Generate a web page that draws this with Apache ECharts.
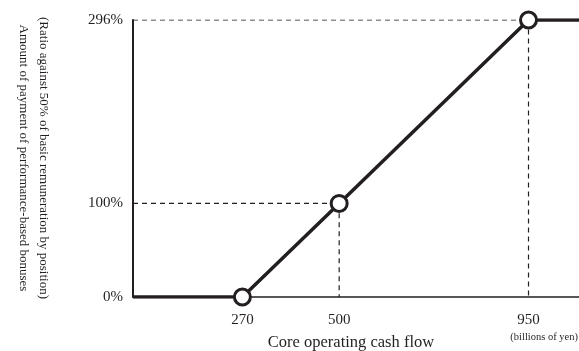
<!DOCTYPE html>
<html><head><meta charset="utf-8">
<script src="https://cdn.jsdelivr.net/npm/echarts@6/dist/echarts.min.js"></script>
<style>html,body{margin:0;padding:0;background:#fff}#c{width:579px;height:351px}</style>
</head><body><div id="c"></div>
<script>
// data
const cashFlow = [10, 270, 500, 950, 1070];      // billions of yen (first/last = axis ends)
const payoutRatio = [0, 0, 100, 296, 296];        // %
const keyPoints = [270, 500, 950];                // points drawn with markers
const xTickLabels = [270, 500, 950];
const yTickLabels = [0, 100, 296];
const xMin = 10, xMax = 1070, yMin = 0, yMax = 296;

const ink = '#231f20';
const serif = '"Liberation Serif","Times New Roman",serif';

const mainData = cashFlow.map((x, i) => keyPoints.includes(x)
  ? { value: [x, payoutRatio[i]] }
  : { value: [x, payoutRatio[i]], symbol: 'none' });

const guides = [];
keyPoints.forEach((x) => {
  const y = payoutRatio[cashFlow.indexOf(x)];
  if (y > 0) guides.push([[xMin, y], [x, y], [x, yMin]]);
});

const chart = echarts.init(document.getElementById('c'));
chart.setOption({
  animation: false,
  grid: { left: 133, right: 0, top: 20, bottom: 54, containLabel: false, outerBoundsMode: 'none' },
  xAxis: {
    type: 'value', min: xMin, max: xMax, interval: 10,
    axisLine: { show: true, lineStyle: { color: ink, width: 1.5 } },
    axisTick: { show: false }, splitLine: { show: false },
    axisLabel: {
      margin: 16, color: ink, fontFamily: serif, fontSize: 15,
      formatter: v => xTickLabels.includes(v) ? String(v) : ''
    },
    name: 'Core operating cash flow', nameLocation: 'middle', nameGap: 37,
    nameTextStyle: { color: ink, fontFamily: serif, fontSize: 16.5, verticalAlign: 'top', padding: [0, 10, 0, 0] }
  },
  yAxis: {
    type: 'value', min: yMin, max: yMax, interval: 100,
    axisLine: { show: true, lineStyle: { color: ink, width: 2 } },
    axisTick: { show: false }, splitLine: { show: false },
    axisLabel: {
      margin: 10, color: ink, fontFamily: serif, fontSize: 15,
      formatter: v => yTickLabels.includes(v) ? v + '%' : ''
    }
  },
  graphic: [
    { type: 'text', x: 33, y: 158, rotation: -Math.PI / 2,
      style: { text: '(Ratio against 50% of basic remuneration by position)\nAmount of payment of performance-based bonuses',
        font: '13px ' + serif, fill: ink, textAlign: 'center', textVerticalAlign: 'middle', lineHeight: 20 } },
    { type: 'text', right: 1, top: 332,
      style: { text: '(billions of yen)', font: '10.5px ' + serif, fill: ink } }
  ],
  series: guides.map(g => ({
    type: 'line', data: g, symbol: 'none', silent: true, z: 1,
    lineStyle: { color: ink, width: 1.2, type: [5, 4] }
  })).concat([{
    type: 'line', data: mainData, z: 5, symbol: 'circle', symbolSize: 16,
    lineStyle: { color: ink, width: 3.5 },
    itemStyle: { color: '#fff', borderColor: ink, borderWidth: 3 }
  }])
});
</script></body></html>
